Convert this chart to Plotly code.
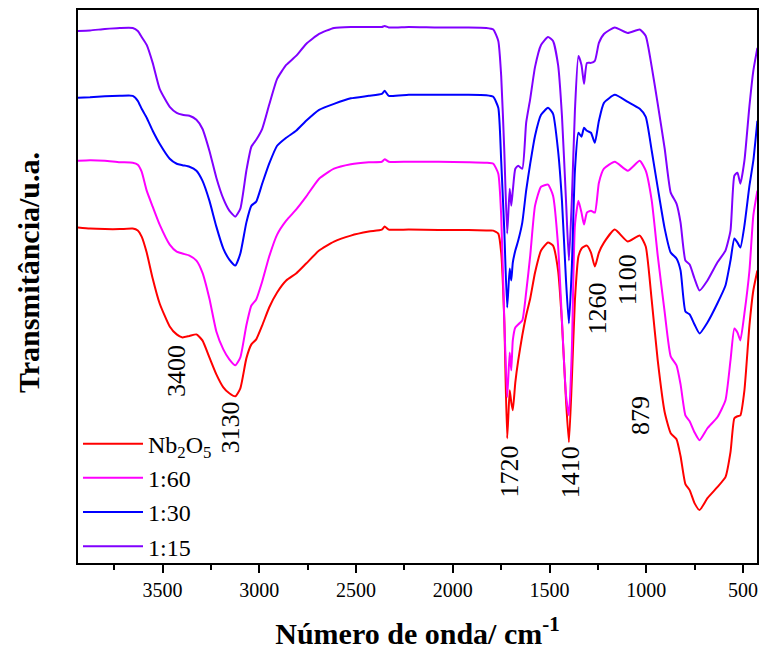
import plotly.graph_objects as go

# FTIR spectra: wavenumber grid (cm^-1) shared by all samples
wavenumber = [
    3937, 3875, 3798, 3721, 3654, 3628, 3608, 3582, 3551, 3515,
    3463, 3427, 3397, 3361, 3325, 3294, 3258, 3222, 3186, 3155,
    3124, 3098, 3067, 3041, 3016, 2985, 2949, 2908, 2861, 2810,
    2758, 2691, 2614, 2527, 2434, 2367, 2352, 2331, 2228, 2074,
    1919, 1827, 1791, 1765, 1750, 1734, 1719, 1706, 1698, 1690,
    1677, 1662, 1641, 1621, 1600, 1575, 1544, 1508, 1482, 1456,
    1436, 1415, 1400, 1385, 1369, 1351, 1335, 1322, 1307, 1286,
    1266, 1245, 1219, 1163, 1096, 1034, 1003, 972, 941, 905,
    874, 844, 823, 798, 776, 751, 725, 684, 633, 591,
    565, 545, 529, 514, 493, 467, 447, 426,
]

# Transmittance (arbitrary units, curves vertically offset)
t_nb2o5 = [
    336, 335, 334.5, 334.5, 335, 333, 327, 311, 285, 260,
    237, 229, 226, 227.5, 229, 223, 206, 189, 176, 170,
    167, 175, 205, 219, 224, 238, 256, 271, 283, 290,
    300, 313, 322, 328, 332, 334, 337, 334, 334, 333.5,
    333.5, 333, 333, 330, 311, 243, 125, 173, 161, 153,
    181, 203, 228, 248, 265, 291, 313, 321, 318, 293,
    241, 163, 121, 183, 263, 307, 315, 317, 318, 311,
    297, 311, 321, 334, 322, 328, 317, 263, 203, 151,
    130, 124, 107, 79, 73, 60, 53, 65, 76, 86,
    111, 145, 147, 148, 173, 238, 273, 293,
]

t_1_60 = [
    403, 403.5, 403, 401.5, 401, 399, 392, 373, 357, 339,
    319, 312, 310, 308, 303, 291, 265, 232, 214, 204,
    198, 206, 238, 258, 264, 282, 307, 329, 343, 354,
    367, 385, 395, 399.5, 401.5, 402, 404.5, 402, 402, 402,
    401.5, 401, 400, 390, 348, 243, 166, 211, 193, 223,
    236, 239, 243, 271, 308, 358, 377, 379, 368, 318,
    243, 168, 148, 213, 338, 363, 351, 339, 351, 353,
    351, 381, 395, 402, 393, 403, 393, 363, 308, 251,
    207, 198, 179, 148, 142, 131, 123, 135, 146, 163,
    203, 235, 231, 223, 250, 293, 348, 373,
]

t_1_30 = [
    466, 466.5, 467.5, 468, 468, 463, 455, 446, 433, 420,
    405, 400, 398.5, 397, 393, 383, 363, 337, 315, 304,
    298, 310, 341, 358, 362, 380, 400, 418, 426, 433,
    443, 454, 460, 465.5, 468, 470, 473, 468, 469, 469,
    469, 468.5, 467, 456, 403, 333, 256, 295, 283, 301,
    313, 323, 341, 373, 400, 428, 449, 456, 450, 413,
    363, 283, 240, 296, 393, 431, 427, 436, 433, 431,
    421, 443, 461, 469, 462, 455, 447, 413, 376, 335,
    311, 305, 293, 252, 249, 239, 230, 241, 260, 278,
    303, 325, 321, 316, 338, 378, 403, 443,
]

t_1_15 = [
    533, 533.5, 535, 536, 536, 533, 527, 519, 501, 475,
    457, 451, 449, 448, 444, 435, 413, 386, 365, 353,
    347, 355, 393, 417, 424, 435, 459, 485, 499, 508,
    520, 530, 536, 537, 537, 537, 538, 536.5, 537, 536.5,
    536.5, 536, 534.5, 523, 488, 413, 330, 375, 358, 373,
    395, 398, 395, 441, 465, 497, 519, 527, 523, 499,
    448, 363, 303, 363, 453, 508, 499, 480, 501, 501,
    503, 521, 530, 536.5, 531, 534.5, 528, 497, 460, 415,
    371, 360, 341, 303, 299, 285, 273, 283, 301, 313,
    333, 388, 391, 380, 403, 458, 493, 516,
]

series_names = ["Nb<sub>2</sub>O<sub>5</sub>", "1:60", "1:30", "1:15"]
series_values = [t_nb2o5, t_1_60, t_1_30, t_1_15]
series_colors = ["#FF0000", "#FF00FF", "#0000FF", "#8000FF"]

# Band assignments: label, wavenumber position, height position
band_labels = ["3400", "3130", "1720", "1410", "1260", "1100", "879"]
band_x = [3427, 3150, 1708, 1394, 1250, 1096, 1029]
band_y = [192, 136, 92, 91, 255, 284, 148]

SERIF = "Liberation Serif, Times New Roman, serif"

fig = go.Figure()
for name, vals, color in zip(series_names, series_values, series_colors):
    fig.add_trace(go.Scatter(
        x=wavenumber, y=vals, name=name, mode="lines",
        line=dict(color=color, width=2, shape="spline", smoothing=0.5),
    ))

for lab, bx, by in zip(band_labels, band_x, band_y):
    fig.add_annotation(
        x=bx, y=by, text=lab, showarrow=False, textangle=-90,
        font=dict(family=SERIF, size=26, color="black"),
    )

# Vertical axis title, placed slightly above the plot's mid-height
fig.add_annotation(
    xref="paper", yref="paper", x=-0.073, y=0.525,
    xanchor="center", yanchor="middle",
    text="<b>Transmitância/u.a.</b>", showarrow=False, textangle=-90,
    font=dict(family=SERIF, size=30, color="black"),
)

fig.update_layout(
    width=761, height=652,
    margin=dict(l=78, r=2, t=10, b=89),
    paper_bgcolor="white", plot_bgcolor="white",
    font=dict(family=SERIF, color="black"),
    legend=dict(
        x=0, y=-0.01, xanchor="left", yanchor="bottom",
        font=dict(family=SERIF, size=24, color="black"),
        bgcolor="rgba(0,0,0,0)", itemwidth=60, tracegroupgap=0,
    ),
)

fig.update_xaxes(
    range=[3937, 428], tick0=0, dtick=500,
    ticks="outside", ticklen=8, tickwidth=2, tickcolor="black",
    minor=dict(ticks="outside", ticklen=5, tickwidth=2, dtick=250, tickcolor="black"),
    tickfont=dict(family=SERIF, size=20, color="black"),
    showline=True, linewidth=2, linecolor="black", mirror=True,
    showgrid=False, zeroline=False,
    title=dict(text="<b>Número de onda/ cm<sup>-1</sup></b>",
               font=dict(family=SERIF, size=30, color="black"), standoff=23),
)
fig.update_yaxes(
    range=[0, 554], showticklabels=False, ticks="",
    showline=True, linewidth=2, linecolor="black", mirror=True,
    showgrid=False, zeroline=False,
)

fig.write_html("out.html")
